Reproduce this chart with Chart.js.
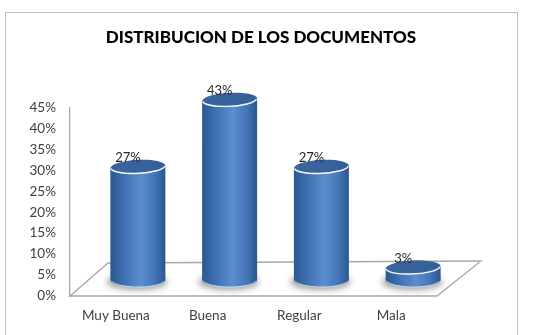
<!DOCTYPE html>
<html>
<head>
<meta charset="utf-8">
<script src="https://cdn.jsdelivr.net/npm/chart.js@4.4.1/dist/chart.umd.min.js"></script>
<style>
  html, body { margin: 0; padding: 0; background: #fff; }
  #wrap { width: 550px; height: 335px; }
</style>
</head>
<body>
<div id="wrap"><canvas id="chart" width="550" height="335"></canvas></div>
<script>
const chartTitle = "DISTRIBUCION DE LOS DOCUMENTOS";
const categories = ["Muy Buena", "Buena", "Regular", "Mala"];
const percentages = [27, 43, 27, 3];
const yMax = 45;
const yStep = 5;

// 3D look: depth of the floor and the shift of the cylinders into it
const DEPTH_X = 22, DEPTH_Y = 16;

// frame + floor drawn behind the bars
const floorPlugin = {
  id: "floor",
  beforeDraw(chart) {
    const ctx = chart.ctx;
    ctx.save();
    ctx.strokeStyle = "#bdbdbd";
    ctx.lineWidth = 1;
    ctx.strokeRect(5.5, 12.5, 512, 340);
    ctx.restore();
  },
  beforeDatasetsDraw(chart) {
    const { ctx, chartArea: a } = chart;
    ctx.save();
    ctx.strokeStyle = "#a8a8a8";
    ctx.lineWidth = 1.3;
    ctx.beginPath();
    ctx.moveTo(a.left, a.bottom);
    ctx.lineTo(a.left + 38, a.bottom - 33);
    ctx.lineTo(a.right + 44, a.bottom - 35);
    ctx.lineTo(a.right, a.bottom);
    ctx.closePath();
    ctx.stroke();
    ctx.restore();
  }
};

// cylinders drawn from each bar element
const cylinderPlugin = {
  id: "cylinders",
  afterDatasetsDraw(chart) {
    const ctx = chart.ctx;
    const meta = chart.getDatasetMeta(0);
    meta.data.forEach((bar, i) => {
      const cx = bar.x + DEPTH_X;
      const top = bar.y - DEPTH_Y;
      const base = bar.base - DEPTH_Y;
      const rx = 27.5, ry = 7, tilt = -0.05;

      ctx.save();
      // shadow at the base
      ctx.fillStyle = "rgba(90,90,90,0.55)";
      ctx.filter = "blur(3px)";
      ctx.beginPath();
      ctx.ellipse(cx - 1, base + 2, rx + 3, ry + 1, 0, 0, Math.PI * 2);
      ctx.fill();
      ctx.filter = "none";

      // body
      const g = ctx.createLinearGradient(cx - rx, 0, cx + rx, 0);
      g.addColorStop(0, "#2c5892");
      g.addColorStop(0.25, "#3e70b2");
      g.addColorStop(0.55, "#5b8ecf");
      g.addColorStop(0.8, "#4577b8");
      g.addColorStop(1, "#2b568f");
      ctx.fillStyle = g;
      ctx.beginPath();
      ctx.moveTo(cx - rx, top);
      ctx.lineTo(cx - rx, base);
      ctx.ellipse(cx, base, rx, ry, 0, Math.PI, 0, true);
      ctx.lineTo(cx + rx, top);
      ctx.ellipse(cx, top, rx, ry, tilt, 0, Math.PI, false);
      ctx.closePath();
      ctx.fill();

      // light rim at the bottom
      ctx.strokeStyle = "rgba(220,232,248,0.8)";
      ctx.lineWidth = 1;
      ctx.beginPath();
      ctx.ellipse(cx, base, rx - 1, ry, 0, 0.15, Math.PI - 0.15, false);
      ctx.stroke();

      // top cap
      const tg = ctx.createLinearGradient(cx - rx, top - ry, cx + rx, top + ry);
      tg.addColorStop(0, "#3a659f");
      tg.addColorStop(1, "#34609a");
      ctx.fillStyle = tg;
      ctx.beginPath();
      ctx.ellipse(cx, top, rx, ry, tilt, 0, Math.PI * 2);
      ctx.fill();
      ctx.strokeStyle = "rgba(255,255,255,0.95)";
      ctx.lineWidth = 1.4;
      ctx.beginPath();
      ctx.ellipse(cx, top, rx - 0.5, ry - 0.5, tilt, 0.1, Math.PI - 0.05, false);
      ctx.stroke();

      // value label
      ctx.fillStyle = "#262626";
      ctx.font = "13px Lato, 'Noto Sans', sans-serif";
      ctx.textAlign = "center";
      ctx.textBaseline = "middle";
      ctx.fillText(percentages[i] + "%", bar.x + 12, top - 9);
      ctx.restore();
    });
  }
};

new Chart(document.getElementById("chart"), {
  type: "bar",
  data: {
    labels: categories,
    datasets: [{
      data: percentages,
      backgroundColor: "rgba(0,0,0,0)",
      borderWidth: 0,
      categoryPercentage: 0.6,
      barPercentage: 1
    }]
  },
  options: {
    responsive: false,
    animation: false,
    layout: { padding: { left: 0, right: 28, top: 0, bottom: 0 } },
    plugins: {
      legend: { display: false },
      tooltip: { enabled: false },
      title: {
        display: true,
        text: chartTitle,
        color: "#000",
        font: { family: "Lato, 'Noto Sans', sans-serif", size: 17, weight: "900" },
        padding: { top: 27, bottom: 60 }
      }
    },
    scales: {
      y: {
        min: 0,
        max: yMax,
        ticks: {
          stepSize: yStep,
          padding: 14,
          color: "#404040",
          font: { family: "Lato, 'Noto Sans', sans-serif", size: 13.5 },
          callback: (v) => v + "%"
        },
        grid: { display: false, drawTicks: false },
        border: { display: true, color: "#a8a8a8", width: 1.3 },
        afterFit: (s) => { s.width = 70; }
      },
      // empty right-hand space so the plot stops where the reference does
      spacer: {
        position: "right",
        display: true,
        ticks: { display: false },
        grid: { display: false, drawTicks: false },
        border: { display: false },
        afterFit: (s) => { s.width = 85; }
      },
      x: {
        ticks: {
          padding: 12,
          color: "#404040",
          font: { family: "Lato, 'Noto Sans', sans-serif", size: 13.5 }
        },
        grid: { display: false, drawTicks: false },
        border: { display: false },
        afterFit: (s) => { s.height = 39; }
      }
    }
  },
  plugins: [floorPlugin, cylinderPlugin]
});
</script>
</body>
</html>
